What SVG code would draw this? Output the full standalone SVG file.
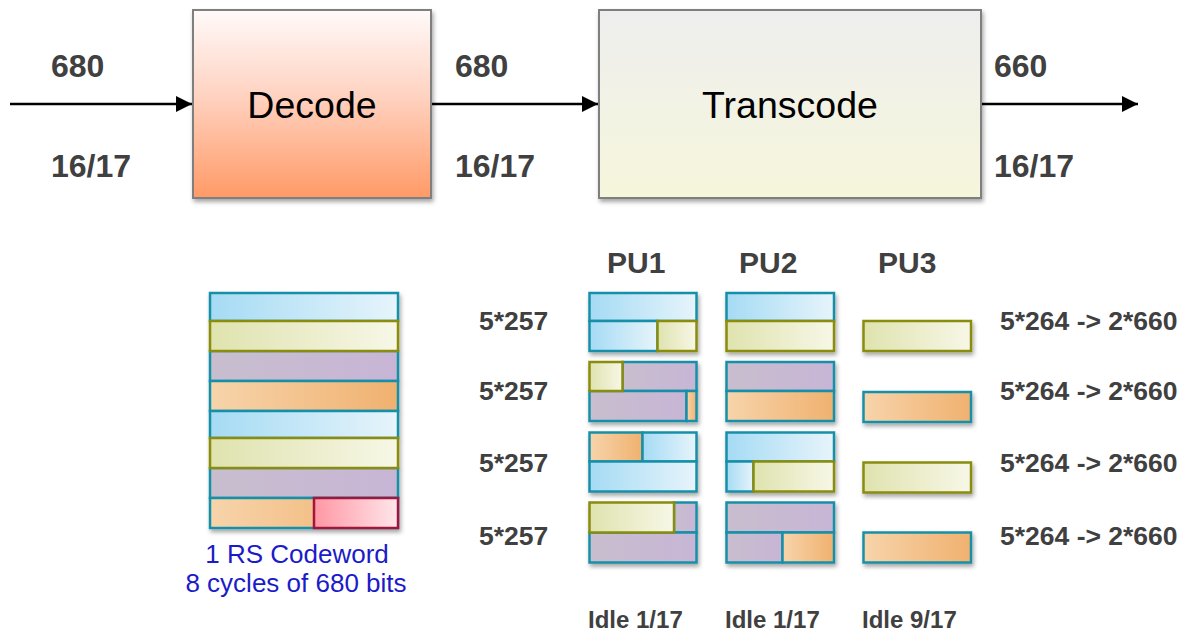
<svg xmlns="http://www.w3.org/2000/svg" width="1180" height="631" viewBox="0 0 1180 631">
  <defs>
    <linearGradient id="gDecode" x1="0" y1="0" x2="0" y2="1">
      <stop offset="0" stop-color="#fffafa"/>
      <stop offset="0.45" stop-color="#ffd3c2"/>
      <stop offset="1" stop-color="#ff9a66"/>
    </linearGradient>
    <linearGradient id="gTrans" x1="0" y1="0" x2="0" y2="1">
      <stop offset="0" stop-color="#eeeeee"/>
      <stop offset="1" stop-color="#f6f6dc"/>
    </linearGradient>
    <linearGradient id="gBlue" x1="0" y1="0" x2="1" y2="0">
      <stop offset="0" stop-color="#a5dbf4"/>
      <stop offset="1" stop-color="#e7f4fb"/>
    </linearGradient>
    <linearGradient id="gYel" x1="0" y1="0" x2="1" y2="0">
      <stop offset="0" stop-color="#dfe3ae"/>
      <stop offset="1" stop-color="#f7f7e7"/>
    </linearGradient>
    <linearGradient id="gPur" x1="0" y1="0" x2="1" y2="0">
      <stop offset="0" stop-color="#c8bece"/>
      <stop offset="1" stop-color="#c8b5d6"/>
    </linearGradient>
    <linearGradient id="gOra" x1="0" y1="0" x2="1" y2="0">
      <stop offset="0" stop-color="#f7d4ab"/>
      <stop offset="1" stop-color="#f0b16f"/>
    </linearGradient>
    <linearGradient id="gRed" x1="0" y1="0" x2="1" y2="0">
      <stop offset="0" stop-color="#ff97a4"/>
      <stop offset="1" stop-color="#ffe6ea"/>
    </linearGradient>
    <filter id="shadow" x="-20%" y="-20%" width="140%" height="150%">
      <feDropShadow dx="1.5" dy="3" stdDeviation="2" flood-color="#000" flood-opacity="0.35"/>
    </filter>
    <marker id="arrow" viewBox="0 0 10 10" refX="10" refY="5" markerUnits="userSpaceOnUse" markerWidth="16" markerHeight="16" orient="auto">
      <path d="M0,0 L10,5 L0,10 Z" fill="#000"/>
    </marker>
  </defs>
  <style>
    .lbl { font-family: "Liberation Sans", Arial, sans-serif; font-weight: bold; fill: #404040; }
    .big { font-size: 32px; }
    .pu { font-size: 30px; }
    .mid { font-size: 26.5px; }
    .idle { font-size: 24px; }
    .title { font-family: "Liberation Sans", Arial, sans-serif; font-size: 37.5px; fill: #000; text-anchor: middle; }
    .note { font-family: "Liberation Sans", Arial, sans-serif; font-size: 26px; fill: #1b1bc9; text-anchor: middle; }
    .box { stroke: #7f7f7f; stroke-width: 2; }
    .conn { stroke: #000; stroke-width: 2.5; fill: none; }
    .seg { stroke-width: 2.5; }
    .b { fill: url(#gBlue); stroke: #1890a8; }
    .y { fill: url(#gYel); stroke: #8a8c0c; }
    .p { fill: url(#gPur); stroke: #1890a8; }
    .o { fill: url(#gOra); stroke: #1890a8; }
    .r { fill: url(#gRed); stroke: #a0123c; }
  </style>

  <!-- connectors -->
  <g id="connectors">
    <line class="conn" x1="10" y1="104" x2="192" y2="104" marker-end="url(#arrow)"/>
    <line class="conn" x1="432" y1="104" x2="598" y2="104" marker-end="url(#arrow)"/>
    <line class="conn" x1="982" y1="104" x2="1138" y2="104" marker-end="url(#arrow)"/>
  </g>

  <!-- rate labels -->
  <g id="rates">
    <text class="lbl big" x="51" y="77">680</text>
    <text class="lbl big" x="51" y="177">16/17</text>
    <text class="lbl big" x="455" y="77">680</text>
    <text class="lbl big" x="455" y="177">16/17</text>
    <text class="lbl big" x="994" y="77">660</text>
    <text class="lbl big" x="994" y="177">16/17</text>
  </g>

  <g id="decode">
    <rect class="box" x="193" y="10" width="238" height="188" fill="url(#gDecode)" filter="url(#shadow)"/>
    <text class="title" x="312" y="118">Decode</text>
  </g>

  <g id="transcode">
    <rect class="box" x="599" y="10" width="382" height="188" fill="url(#gTrans)" filter="url(#shadow)"/>
    <text class="title" x="790" y="118">Transcode</text>
  </g>

  <!-- one RS codeword: eight 680-bit cycles -->
  <g id="codeword" class="seg" filter="url(#shadow)">
    <rect class="b" x="210" y="293" width="188" height="28"/>
    <rect class="p" x="210" y="351" width="188" height="30"/>
    <rect class="o" x="210" y="381" width="188" height="30"/>
    <rect class="b" x="210" y="411" width="188" height="27"/>
    <rect class="p" x="210" y="468" width="188" height="30"/>
    <rect class="o" x="210" y="498" width="188" height="30"/>
    <rect class="y" x="210" y="321" width="188" height="30"/>
    <rect class="y" x="210" y="438" width="188" height="30"/>
    <rect class="r" x="314" y="498" width="84" height="30"/>
  </g>
  <g id="codeword-label">
    <text class="note" x="297" y="563">1 RS Codeword</text>
    <text class="note" x="296" y="592">8 cycles of 680 bits</text>
  </g>

  <!-- processing-unit headers -->
  <g id="pu-headers">
    <text class="lbl pu" x="607" y="273">PU1</text>
    <text class="lbl pu" x="739" y="273">PU2</text>
    <text class="lbl pu" x="878" y="273">PU3</text>
  </g>

  <g id="row-labels">
    <text class="lbl mid" x="479" y="330">5*257</text>
    <text class="lbl mid" x="479" y="400">5*257</text>
    <text class="lbl mid" x="479" y="472">5*257</text>
    <text class="lbl mid" x="479" y="545">5*257</text>
    <text class="lbl mid" x="1000" y="330">5*264 -&gt; 2*660</text>
    <text class="lbl mid" x="1000" y="400">5*264 -&gt; 2*660</text>
    <text class="lbl mid" x="1000" y="472">5*264 -&gt; 2*660</text>
    <text class="lbl mid" x="1000" y="545">5*264 -&gt; 2*660</text>
  </g>

  <!-- PU1 -->
  <g id="pu1" class="seg">
    <g filter="url(#shadow)">
      <rect class="b" x="589.5" y="293" width="107" height="28"/>
      <rect class="b" x="589.5" y="321" width="68" height="30"/>
      <rect class="y" x="657.5" y="321" width="39" height="30"/>
    </g>
    <g filter="url(#shadow)">
      <rect class="p" x="622.5" y="362" width="74" height="29"/>
      <rect class="p" x="589.5" y="391" width="97" height="30"/>
      <rect class="o" x="686.5" y="391" width="10" height="30"/>
      <rect class="y" x="589.5" y="362" width="33" height="29"/>
    </g>
    <g filter="url(#shadow)">
      <rect class="o" x="589.5" y="432.5" width="53" height="29"/>
      <rect class="b" x="642.5" y="432.5" width="54" height="29"/>
      <rect class="b" x="589.5" y="461.5" width="107" height="30"/>
    </g>
    <g filter="url(#shadow)">
      <rect class="p" x="674" y="502.5" width="22.5" height="30"/>
      <rect class="p" x="589.5" y="532.5" width="107" height="30"/>
      <rect class="y" x="589.5" y="502.5" width="84.5" height="30"/>
    </g>
  </g>

  <!-- PU2 -->
  <g id="pu2" class="seg">
    <g filter="url(#shadow)">
      <rect class="b" x="726.5" y="293" width="107.5" height="28"/>
      <rect class="y" x="726.5" y="321" width="107.5" height="30"/>
    </g>
    <g filter="url(#shadow)">
      <rect class="p" x="726.5" y="362" width="107.5" height="29"/>
      <rect class="o" x="726.5" y="391" width="107.5" height="30"/>
    </g>
    <g filter="url(#shadow)">
      <rect class="b" x="726.5" y="432.5" width="107.5" height="29"/>
      <rect class="b" x="726.5" y="461.5" width="27" height="30"/>
      <rect class="y" x="753.5" y="461.5" width="80.5" height="30"/>
    </g>
    <g filter="url(#shadow)">
      <rect class="p" x="726.5" y="502.5" width="107.5" height="30"/>
      <rect class="p" x="726.5" y="532.5" width="56" height="30"/>
      <rect class="o" x="782.5" y="532.5" width="51.5" height="30"/>
    </g>
  </g>

  <!-- PU3 -->
  <g id="pu3" class="seg">
    <rect class="y" x="863.5" y="321" width="107.5" height="30" filter="url(#shadow)"/>
    <rect class="o" x="863.5" y="392" width="107.5" height="30" filter="url(#shadow)"/>
    <rect class="y" x="863.5" y="462.5" width="107.5" height="30" filter="url(#shadow)"/>
    <rect class="o" x="863.5" y="532.5" width="107.5" height="30" filter="url(#shadow)"/>
  </g>

  <g id="idle-labels">
    <text class="lbl idle" x="588" y="628">Idle 1/17</text>
    <text class="lbl idle" x="725" y="628">Idle 1/17</text>
    <text class="lbl idle" x="862" y="628">Idle 9/17</text>
  </g>
</svg>
